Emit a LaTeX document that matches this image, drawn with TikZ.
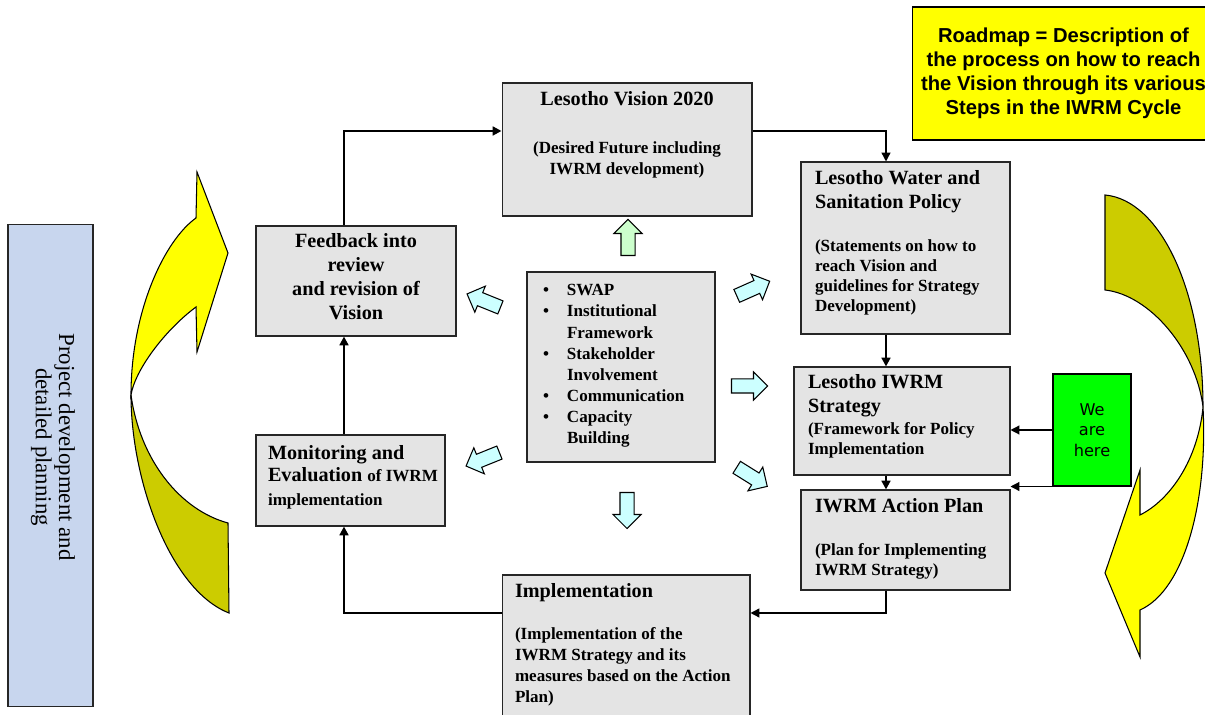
\documentclass[tikz,border=0pt]{standalone}
\usepackage{fontspec}
\setmainfont{Liberation Serif}
\newfontfamily\arialfont{Liberation Sans}
\newfontfamily\tahomafont{DejaVu Sans}
\usetikzlibrary{positioning,calc,shapes.arrows,arrows.meta}

\definecolor{marble}{RGB}{228,228,228}
\definecolor{planblue}{RGB}{200,214,238}
\definecolor{paleblue}{RGB}{204,255,255}
\definecolor{palegreen}{RGB}{204,255,204}
\definecolor{ribbonlight}{RGB}{255,255,0}
\definecolor{ribbondark}{RGB}{204,204,0}
\definecolor{herebox}{RGB}{0,255,0}

\newcommand{\ttl}{\fontsize{11.5}{13.3}\selectfont\bfseries}
\newcommand{\sub}{\fontsize{9.7}{11.4}\selectfont\bfseries}
\newcommand{\topgap}{\rule{0pt}{13pt}}
\newcommand{\bul}{\hspace*{0.32cm}\makebox[0.48cm][l]{\textbullet}}
\newcommand{\cont}{\hspace*{0.8cm}}

\tikzset{
  stepbox/.style={draw=black!85, line width=0.6pt, fill=marble, inner sep=0pt},
  flowthick/.style={line width=1.4pt, -{Triangle[length=5pt,width=5pt]}},
  flowthin/.style={line width=0.8pt, -{Triangle[length=5pt,width=5pt]}},
  flowhere/.style={line width=0.7pt, -{Triangle[length=5pt,width=5pt]}},
  fatarrow/.style={single arrow, draw=black, line width=0.6pt, fill=paleblue,
    inner xsep=0pt, inner ysep=0.13cm, single arrow head extend=0.14cm,
    single arrow head indent=0pt, minimum height=0.72cm},
  ribbonup/.style={draw=black, line width=0.6pt, fill=ribbonlight},
  ribbondown/.style={draw=black, line width=0.6pt, fill=ribbondark}
}

\begin{document}
\begin{tikzpicture}[x=0.02cm,y=-0.02cm]
    \fill[white] (0,0) rectangle (1205,715);
    \useasboundingbox (0,0) rectangle (1205,715);

    % curved ribbon arrows
    \filldraw[ribbonup] (196,218) .. controls (165,240) and (131,310) .. (131,395)
        .. controls (135,370) and (165,330) .. (196,307) -- (197,352) -- (228,253) -- (197,172) -- cycle;
    \filldraw[ribbondown] (131,395) .. controls (131,480) and (170,590) .. (229,613)
        -- (228,523) .. controls (180,510) and (140,460) .. (131,395) -- cycle;
    \filldraw[ribbondown] (1105,195) .. controls (1160,200) and (1203,290) .. (1203,407)
        .. controls (1196,350) and (1150,295) .. (1105,290) -- cycle;
    \filldraw[ribbonup] (1203,407) .. controls (1208,500) and (1185,590) .. (1140,610)
        -- (1140,657) -- (1105,573) -- (1140,470) -- (1140,515)
        .. controls (1170,500) and (1198,460) .. (1203,407) -- cycle;

    % boxes
    \node[stepbox] (vision) at (627,149.5) {\parbox[c][2.66cm][t]{5cm}{\centering\ttl\topgap
        Lesotho Vision 2020\par\vspace{16pt}\sub (Desired Future including\\ IWRM development)\par}};
    \node[stepbox] (feedback) at (356,281) {\parbox[c][2.2cm][t]{4cm}{\centering
        \fontsize{11.5}{13.6}\selectfont\bfseries\rule{0pt}{12.5pt}Feedback into\\ review\\ and revision of\\ Vision\par}};
    \node[stepbox] (swap) at (621,367) {\parbox[c][3.8cm][t]{3.76cm}{\fontsize{9.7}{12}\selectfont\bfseries
        \rule{0pt}{13.6pt}\bul SWAP\\ \bul Institutional\\ \cont Framework\\ \bul Stakeholder\\
        \cont Involvement\\ \bul Communication\\ \bul Capacity\\ \cont Building\par}};
    \node[stepbox] (water) at (905.5,248) {\parbox[c][3.44cm][t]{4.18cm}{\raggedright\leftskip=0.28cm
        \ttl\topgap Lesotho Water and\\ Sanitation Policy\par\vspace{13.4pt}\sub
        (Statements on how to\\ reach Vision and\\ guidelines for Strategy\\ Development)\par}};
    \node[stepbox] (strategy) at (902,421) {\parbox[c][2.16cm][t]{4.32cm}{\raggedright\leftskip=0.28cm
        \ttl\rule{0pt}{12.5pt}Lesotho IWRM\\ Strategy\par\vspace{1.1pt}\sub
        (Framework for Policy\\ Implementation\par}};
    \node[stepbox] (action) at (905.5,540) {\parbox[c][2cm][t]{4.18cm}{\raggedright\leftskip=0.28cm
        \ttl\topgap IWRM Action Plan\par\vspace{12.8pt}\sub
        (Plan for Implementing\\ IWRM Strategy)\par}};
    \node[stepbox] (monitor) at (350.5,480.5) {\parbox[c][1.82cm][t]{3.78cm}{\raggedright\leftskip=0.24cm
        \fontsize{11.5}{12.5}\selectfont\bfseries\rule{0pt}{14pt}Monitoring and\\ Evaluation {\sub of IWRM}\par
        \vspace{2.2pt}{\sub implementation\par}}};
    \node[stepbox] (impl) at (626,647.5) {\parbox[c][2.9cm][t]{4.96cm}{\raggedright\leftskip=0.26cm
        \ttl\topgap Implementation\par\vspace{11.6pt}\fontsize{9.7}{12}\selectfont\bfseries
        (Implementation of the\\ IWRM Strategy and its\\ measures based on the Action\\ Plan)\par}};

    % side notes
    \node[draw=black!85, line width=0.6pt, fill=planblue, minimum width=1.7cm, minimum height=9.66cm]
        (project) at (50.5,465.5) {};
    \node[rotate=-90, align=center, font=\fontsize{13}{13.2}\selectfont] (projtext) at (53,447)
        {Project development and\\ detailed planning};
    \node[draw=black, line width=0.6pt, fill=herebox, minimum width=1.56cm, minimum height=2.24cm,
        align=center, font=\tahomafont\fontsize{9.2}{11.8}\selectfont] (here) at (1092,430) {We\\ are\\ here};
    \node[draw=black, line width=0.6pt, fill=ribbonlight, minimum width=6.06cm, minimum height=2.66cm,
        align=center, font=\arialfont\bfseries\fontsize{11.5}{13.6}\selectfont] (roadmap) at (1063.5,73.5)
        {Roadmap = Description of\\ the process on how to reach\\ the Vision through its various\\ Steps in the IWRM Cycle};

    % block arrows round the centre box
    \node[fatarrow, fill=palegreen, rotate=90] (arrVision) at (628,241) {};
    \node[fatarrow, rotate=158] (arrFeedback) at (487,302) {};
    \node[fatarrow, rotate=24] (arrWater) at (750,290) {};
    \node[fatarrow, rotate=0] (arrStrategy) at (746,386) {};
    \node[fatarrow, rotate=-32] (arrAction) at (749,475) {};
    \node[fatarrow, rotate=202] (arrMonitor) at (486,458) {};
    \node[fatarrow, rotate=-90] (arrImpl) at (627,507) {};

    % cycle connectors
    \draw[flowthick] ($(feedback.north)+(-12,0)$) |- ($(vision.west)+(0,-18.5)$);
    \draw[flowthin] ($(vision.east)+(0,-18.5)$) -| ($(water.north)+(-19.5,0)$);
    \draw[flowthick] ($(water.south)+(-19.5,0)$) -- ($(strategy.north)+(-16,0)$);
    \draw[flowthick] ($(strategy.south)+(-16,0)$) -- ($(action.north)+(-19.5,0)$);
    \draw[flowthin] ($(action.south)+(-19.5,0)$) |- ($(impl.east)+(0,-34.5)$);
    \draw[flowthick] ($(impl.west)+(0,-34.5)$) -| ($(monitor.south)+(-6.5,0)$);
    \draw[flowthick] ($(monitor.north)+(-6.5,0)$) -- ($(feedback.south)+(-12,0)$);
    \draw[flowhere] (here.west) -- (here.west -| strategy.east);
    \draw[flowhere] (here.south west) -- (here.south west -| action.east);
\end{tikzpicture}
\end{document}
